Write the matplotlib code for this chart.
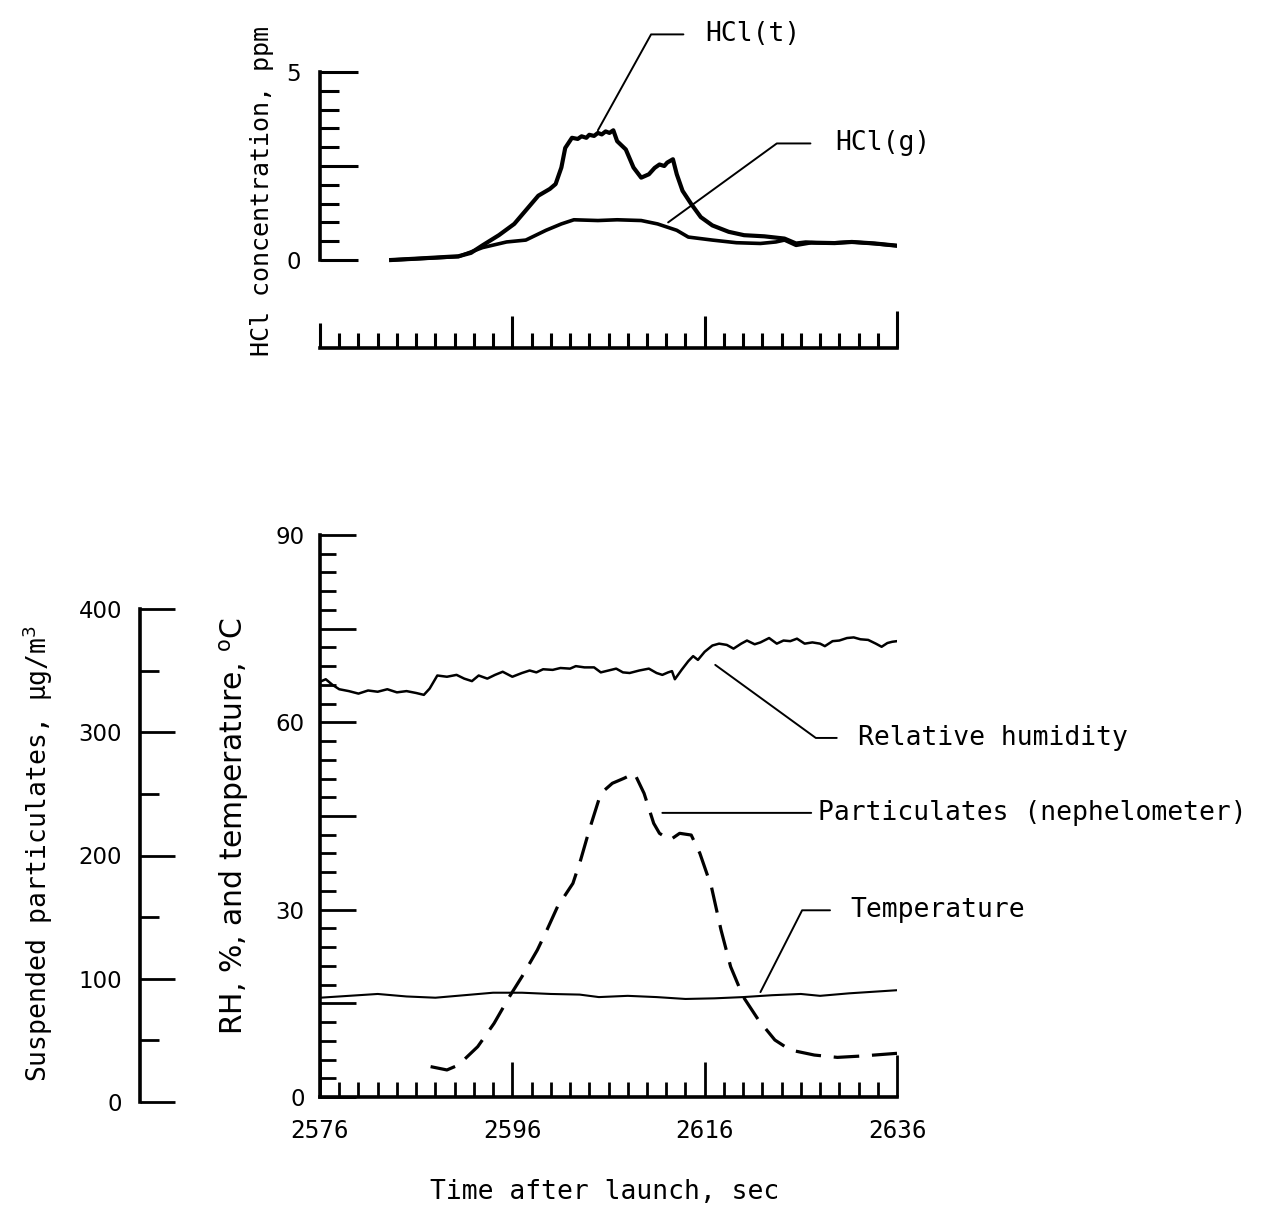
import numpy as np
import matplotlib.pyplot as plt
from matplotlib.ticker import MultipleLocator, FixedLocator

# ---- data ----
# top panel, HCl concentration (ppm)
hcl_t_time = [2583.4, 2586.3, 2590.4, 2591.7, 2592.9, 2594.6, 2596.2, 2597.4, 2598.7,
              2599.9, 2600.5, 2601.1, 2601.5, 2602.2, 2602.8, 2603.2, 2603.7, 2604.0,
              2604.5, 2604.9, 2605.3, 2605.7, 2606.1, 2606.5, 2606.9, 2607.8, 2608.6,
              2609.4, 2610.2, 2610.8, 2611.3, 2611.8, 2612.1, 2612.7, 2613.1, 2613.7,
              2614.6, 2615.6, 2616.8, 2618.5, 2620.1, 2622.2, 2624.3, 2625.5, 2626.5,
              2627.6, 2629.5, 2631.3, 2633.7, 2636.0]
hcl_t = [0.0, 0.04, 0.1, 0.19, 0.39, 0.66, 0.96, 1.32, 1.71,
         1.89, 2.02, 2.46, 2.98, 3.25, 3.22, 3.29, 3.25, 3.33,
         3.3, 3.38, 3.34, 3.42, 3.38, 3.45, 3.16, 2.94, 2.46,
         2.19, 2.28, 2.45, 2.54, 2.5, 2.59, 2.68, 2.28, 1.84,
         1.49, 1.14, 0.92, 0.75, 0.66, 0.63, 0.57, 0.44, 0.47,
         0.46, 0.45, 0.48, 0.44, 0.38]

hcl_g_time = [2583.4, 2590.4, 2592.9, 2595.4, 2597.4, 2599.5, 2601.1, 2602.4, 2604.9,
              2606.9, 2609.4, 2611.1, 2613.1, 2614.3, 2616.8, 2619.3, 2621.8, 2623.4,
              2624.3, 2625.5, 2627.1, 2629.0, 2631.3, 2633.5, 2636.0]
hcl_g = [0.0, 0.09, 0.33, 0.48, 0.53, 0.79, 0.96, 1.07, 1.05,
         1.07, 1.05, 0.96, 0.79, 0.61, 0.53, 0.46, 0.44, 0.48,
         0.53, 0.39, 0.46, 0.45, 0.48, 0.44, 0.38]

# bottom panel, relative humidity (%)
rh_time = [2576.0, 2576.6, 2577.3, 2578.0, 2579.0, 2580.0, 2581.0, 2582.0, 2583.0, 2584.0,
           2585.0, 2586.0, 2586.8, 2587.4, 2588.2, 2589.2, 2590.2, 2591.0, 2591.8, 2592.5,
           2593.4, 2594.2, 2595.0, 2596.0, 2597.0, 2597.8, 2598.5, 2599.2, 2600.2, 2601.0,
           2602.0, 2602.6, 2603.5, 2604.5, 2605.2, 2606.0, 2606.8, 2607.5, 2608.2, 2609.2,
           2610.2, 2611.0, 2611.6, 2612.2, 2612.6, 2612.9, 2613.6, 2614.3, 2614.8, 2615.3,
           2616.0, 2616.8, 2617.5, 2618.3, 2619.0, 2619.8, 2620.4, 2621.2, 2621.8, 2622.7,
           2623.5, 2624.2, 2624.9, 2625.6, 2626.4, 2627.2, 2628.0, 2628.5, 2629.3, 2630.0,
           2630.8, 2631.5, 2632.2, 2633.0, 2633.8, 2634.4, 2635.0, 2635.5, 2636.0]
rh = [66.5, 66.9, 66.0, 65.3, 65.0, 64.6, 65.1, 64.9, 65.3, 64.8,
      65.0, 64.7, 64.4, 65.4, 67.5, 67.3, 67.6, 67.0, 66.6, 67.5,
      67.0, 67.6, 68.1, 67.3, 67.9, 68.3, 68.0, 68.5, 68.4, 68.7,
      68.6, 69.0, 68.8, 68.8, 68.0, 68.3, 68.6, 68.0, 67.9, 68.3,
      68.6, 67.9, 67.6, 68.0, 68.2, 66.9, 68.4, 69.8, 70.6, 70.0,
      71.3, 72.3, 72.6, 72.4, 71.8, 72.6, 73.1, 72.5, 72.8, 73.5,
      72.6, 73.1, 73.0, 73.4, 72.6, 72.8, 72.6, 72.2, 73.0, 73.1,
      73.5, 73.6, 73.3, 73.2, 72.6, 72.1, 72.7, 72.9, 73.0]

# temperature (deg C)
temp_time = [2576, 2579, 2582, 2585, 2588, 2591, 2594, 2597, 2600, 2603, 2605,
             2608, 2611, 2614, 2617, 2620, 2623, 2626, 2628, 2631, 2634, 2636]
temp = [15.9, 16.2, 16.5, 16.1, 15.9, 16.3, 16.7, 16.7, 16.5, 16.4, 16.0,
        16.2, 16.0, 15.7, 15.8, 16.0, 16.3, 16.5, 16.2, 16.6, 16.9, 17.1]

# particulates, nephelometer (ug/m3)
part_time = [2587.5, 2589.2, 2590.4, 2592.4, 2594.1, 2595.7, 2597.0, 2598.6, 2599.6,
             2600.7, 2602.3, 2603.1, 2604.0, 2605.2, 2606.4, 2607.6, 2608.7, 2609.7,
             2610.7, 2611.3, 2612.4, 2613.4, 2614.6, 2615.5, 2616.7, 2617.7, 2618.7,
             2620.0, 2621.6, 2623.3, 2624.9, 2627.4, 2629.8, 2632.3, 2636.0]
part = [28.7, 26.0, 30.0, 44.9, 63.8, 85.5, 101.7, 123.3, 139.6,
        158.5, 177.4, 196.3, 220.7, 250.4, 258.6, 262.6, 266.7, 250.4,
        226.1, 218.0, 212.6, 218.0, 216.6, 201.8, 174.7, 139.6, 109.8,
        85.5, 66.5, 50.3, 42.2, 38.1, 36.2, 37.3, 39.5]

time_ticks = [2576, 2596, 2616, 2636]

# ---- layout ----
mono = 'DejaVu Sans Mono'
W, H = 1263, 1214
fig = plt.figure(figsize=(W / 100, H / 100), dpi=100)


def box(left, right, top, bottom):
    return [left / W, 1 - bottom / H, (right - left) / W, (bottom - top) / H]


ax_top = fig.add_axes(box(320, 897, 72, 348))
ax_main = fig.add_axes(box(320, 897, 535, 1097))
ax_part = fig.add_axes(box(320, 897, 609, 1102))

for ax in (ax_top, ax_main, ax_part):
    ax.set_facecolor('none')
    ax.spines['top'].set_visible(False)
    ax.spines['right'].set_visible(False)
    for s in ('left', 'bottom'):
        ax.spines[s].set_linewidth(2.6)
    ax.set_xlim(2576, 2636)

# ---- top panel ----
ax_top.plot(hcl_t_time, hcl_t, color='k', lw=3.0, solid_joinstyle='round')
ax_top.plot(hcl_g_time, hcl_g, color='k', lw=2.6, solid_joinstyle='round')
ax_top.set_ylim(-2.34, 5)
ax_top.spines['left'].set_bounds(0, 5)
ax_top.set_yticks([0, 2.5, 5], ['0', '', '5'])
ax_top.yaxis.set_minor_locator(FixedLocator(np.arange(0, 5.01, 0.5)))
ax_top.tick_params(axis='y', which='major', direction='in', length=27, width=2.2,
                   pad=14, labelsize=16.5)
ax_top.tick_params(axis='y', which='minor', direction='in', length=14, width=2.2)
ax_top.set_xticks(time_ticks, ['', '', '', ''])
ax_top.xaxis.set_minor_locator(MultipleLocator(2))
ax_top.tick_params(axis='x', which='major', direction='in', length=23, width=2.2)
ax_top.tick_params(axis='x', which='minor', direction='in', length=11, width=2.2)
tt = ax_top.xaxis.get_major_ticks()
tt[0].tick1line.set_markersize(18)
tt[-1].tick1line.set_markersize(27)

ax_top.annotate('HCl(t)', xy=(2604.9, 3.45), xytext=(2616.1, 6.0),
                fontfamily=mono, fontsize=19, ha='left', va='center',
                annotation_clip=False,
                arrowprops=dict(arrowstyle='-', lw=1.4, shrinkA=14, shrinkB=0,
                                connectionstyle='angle,angleA=0,angleB=61,rad=0'))
ax_top.annotate('HCl(g)', xy=(2612.2, 1.0), xytext=(2629.6, 3.1),
                fontfamily=mono, fontsize=19, ha='left', va='center',
                annotation_clip=False,
                arrowprops=dict(arrowstyle='-', lw=1.4, shrinkA=16, shrinkB=0,
                                connectionstyle='angle,angleA=0,angleB=36,rad=0'))

# ---- bottom panel ----
ax_main.plot(rh_time, rh, color='k', lw=1.8)
ax_main.plot(temp_time, temp, color='k', lw=1.5)
ax_main.set_ylim(0, 90)
ax_main.set_yticks(np.arange(0, 91, 15), ['0', '', '30', '', '60', '', '90'])
ax_main.yaxis.set_minor_locator(MultipleLocator(3))
ax_main.tick_params(axis='y', which='major', direction='in', length=26, width=2,
                    pad=11, labelsize=16.5)
ax_main.tick_params(axis='y', which='minor', direction='in', length=11.5, width=2)
ax_main.set_xticks(time_ticks, [str(t) for t in time_ticks], fontfamily=mono, fontsize=17.5)
ax_main.xaxis.set_minor_locator(MultipleLocator(2))
ax_main.tick_params(axis='x', which='major', direction='in', length=25, width=2, pad=16)
ax_main.tick_params(axis='x', which='minor', direction='in', length=11, width=2)
mt = ax_main.xaxis.get_major_ticks()
mt[-1].tick1line.set_markersize(30)

ax_part.plot(part_time, part, color='k', lw=2.3, dashes=(8, 4))
ax_part.set_ylim(0, 400)
ax_part.spines['bottom'].set_visible(False)
ax_part.spines['left'].set_position(('outward', 129.6))
ax_part.set_xticks([])
ax_part.set_yticks(np.arange(0, 401, 100))
ax_part.yaxis.set_minor_locator(MultipleLocator(50))
ax_part.tick_params(axis='y', which='major', direction='in', length=25, width=2,
                    pad=13, labelsize=16.5)
ax_part.tick_params(axis='y', which='minor', direction='in', length=14, width=2)

ax_main.annotate('Relative humidity', xy=(2617.1, 69.2), xytext=(2631.9, 57.5),
                 fontfamily=mono, fontsize=19, ha='left', va='center',
                 annotation_clip=False,
                 arrowprops=dict(arrowstyle='-', lw=1.4, shrinkA=13, shrinkB=0,
                                 connectionstyle='angle,angleA=0,angleB=-36,rad=0'))
ax_main.annotate('Particulates (nephelometer)', xy=(2611.6, 45.5), xytext=(2627.8, 45.5),
                 fontfamily=mono, fontsize=19, ha='left', va='center',
                 annotation_clip=False,
                 arrowprops=dict(arrowstyle='-', lw=1.4, shrinkA=3, shrinkB=0))
ax_main.annotate('Temperature', xy=(2621.8, 16.8), xytext=(2631.2, 29.9),
                 fontfamily=mono, fontsize=19, ha='left', va='center',
                 annotation_clip=False,
                 arrowprops=dict(arrowstyle='-', lw=1.4, shrinkA=13, shrinkB=0,
                                 connectionstyle='angle,angleA=0,angleB=63,rad=0'))

# ---- axis titles ----
fig.text(38 / W, 1 - 853 / H, 'Suspended particulates, µg/m$^3$', rotation=90,
         ha='center', va='center', fontfamily=mono, fontsize=19)
fig.text(234 / W, 1 - 826 / H, 'RH, %, and temperature, $^{\\rm o}$C', rotation=90,
         ha='center', va='center', fontfamily='DejaVu Sans', fontsize=21.5)
fig.text(262 / W, 1 - 191 / H, 'HCl concentration, ppm', rotation=90,
         ha='center', va='center', fontfamily=mono, fontsize=18)
fig.text(605 / W, 1 - 1192 / H, 'Time after launch, sec',
         ha='center', va='center', fontfamily=mono, fontsize=19)

fig.savefig('out.png', dpi=100)
